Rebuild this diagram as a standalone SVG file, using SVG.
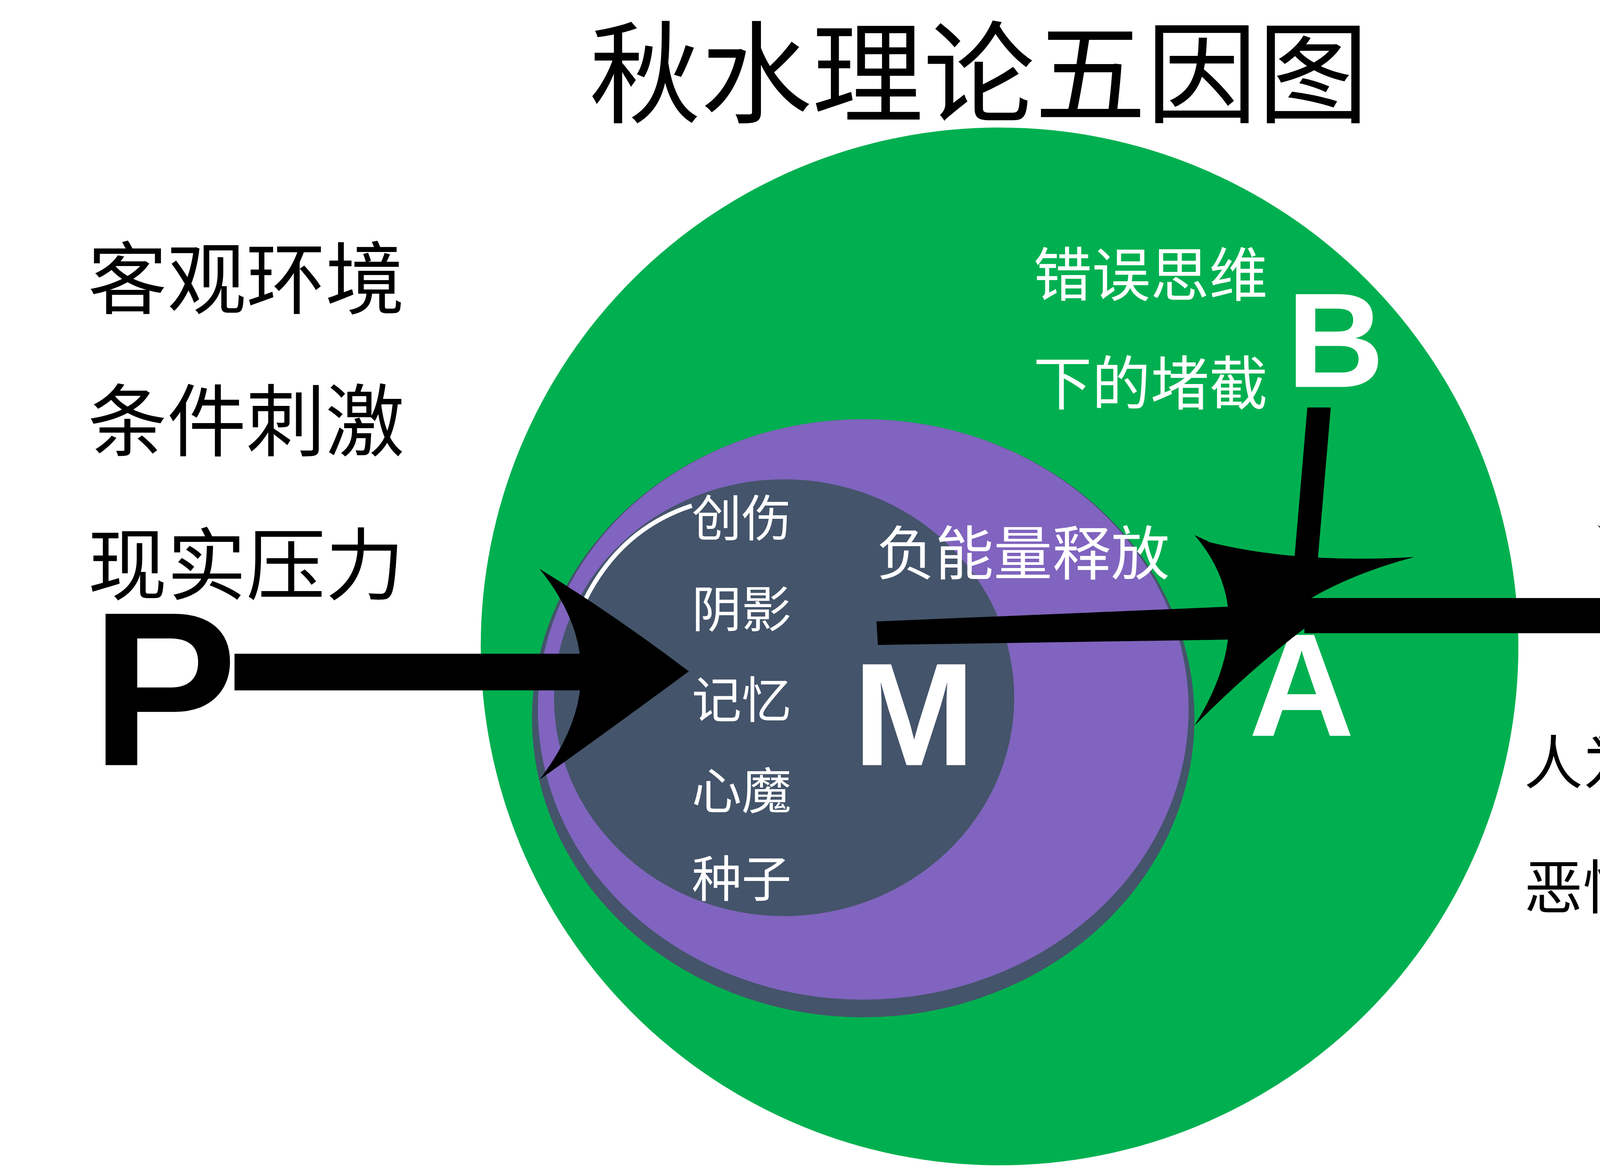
<svg xmlns="http://www.w3.org/2000/svg" width="5808" height="3000" viewBox="0 0 5808 3000">
<style>
.t{font-family:"Noto Sans CJK SC","Noto Sans",sans-serif}
.b{font-family:"Liberation Sans",Arial,sans-serif;font-weight:bold}
.w{fill:#fff}
</style>
<rect width="5808" height="3000" fill="#fff"/>
<g transform="scale(3.752)">
<text class="t" x="668" y="78" font-size="76" text-anchor="middle">秋水理论五因图</text>
<g id="env" class="t" font-size="54">
<text x="60" y="210">客观环境</text>
<text x="60" y="307">条件刺激</text>
<text x="60" y="405">现实压力</text>
</g>
<g id="P"><text class="b" x="62" y="522" font-size="150">P</text></g>
<g id="green"><circle cx="682" cy="441" r="354" fill="#00b050"/></g>
<g id="purple">
<ellipse cx="589" cy="490" rx="226" ry="204" fill="#44546a"/>
<ellipse cx="589" cy="484" rx="222" ry="198" fill="#8064bf"/>
</g>
<g id="M">
<ellipse cx="535" cy="476" rx="157" ry="149" fill="#44546a"/>
<path d="M396,416 Q420,362 472,345" fill="none" stroke="#fff" stroke-width="3"/>
<g class="t w" font-size="34">
<text x="472" y="366">创伤</text>
<text x="472" y="428">阴影</text>
<text x="472" y="490">记忆</text>
<text x="472" y="552">心魔</text>
<text x="472" y="612">种子</text>
</g>
<text class="b w" x="582" y="522" font-size="100">M</text>
<text class="t w" x="598" y="392" font-size="40">负能量释放</text>
</g>
<g id="B" class="w">
<text class="t" x="705" y="202" font-size="40">错误思维</text>
<text class="t" x="705" y="276" font-size="40">下的堵截</text>
<text class="b" x="878" y="264" font-size="92">B</text>
</g>
<g id="A"><text class="b w" x="852" y="502" font-size="100">A</text></g>
<g id="S"><text class="b" x="1190" y="445" font-size="110">S</text></g>
<g id="result" class="t" font-size="40">
<text x="1040" y="535">人为堵截情绪导致破坏性结果：</text>
<text x="1040" y="620">恶性躯体化症状和身心伤痕累累</text>
</g>
<g id="connectors" fill="#000">
<rect x="160" y="446" width="250" height="25"/>
<path d="M470,458 Q420,420 368,388 Q425,458 368,532 Q420,495 470,458 Z"/>
<path d="M598,424 L860,413 L861,436 L599,440 Z"/>
<path d="M902,420 Q860,385 815,365 Q862,420 815,495 Q860,450 902,420 Z"/>
<path d="M892,278 L908,278 L898,395 L882,395 Z"/>
<path d="M888,412 Q855,390 818,368 Q880,385 965,380 Q920,392 888,412 Z"/>
<rect x="890" y="408" width="240" height="24"/>
<path d="M1180,420 Q1130,385 1090,358 Q1140,420 1090,505 Q1130,455 1180,420 Z"/>
</g>
<text class="t" x="1190" y="762" font-size="46" fill="#e6e6e6">知乎 @秋水心理</text>
</g>
</svg>
